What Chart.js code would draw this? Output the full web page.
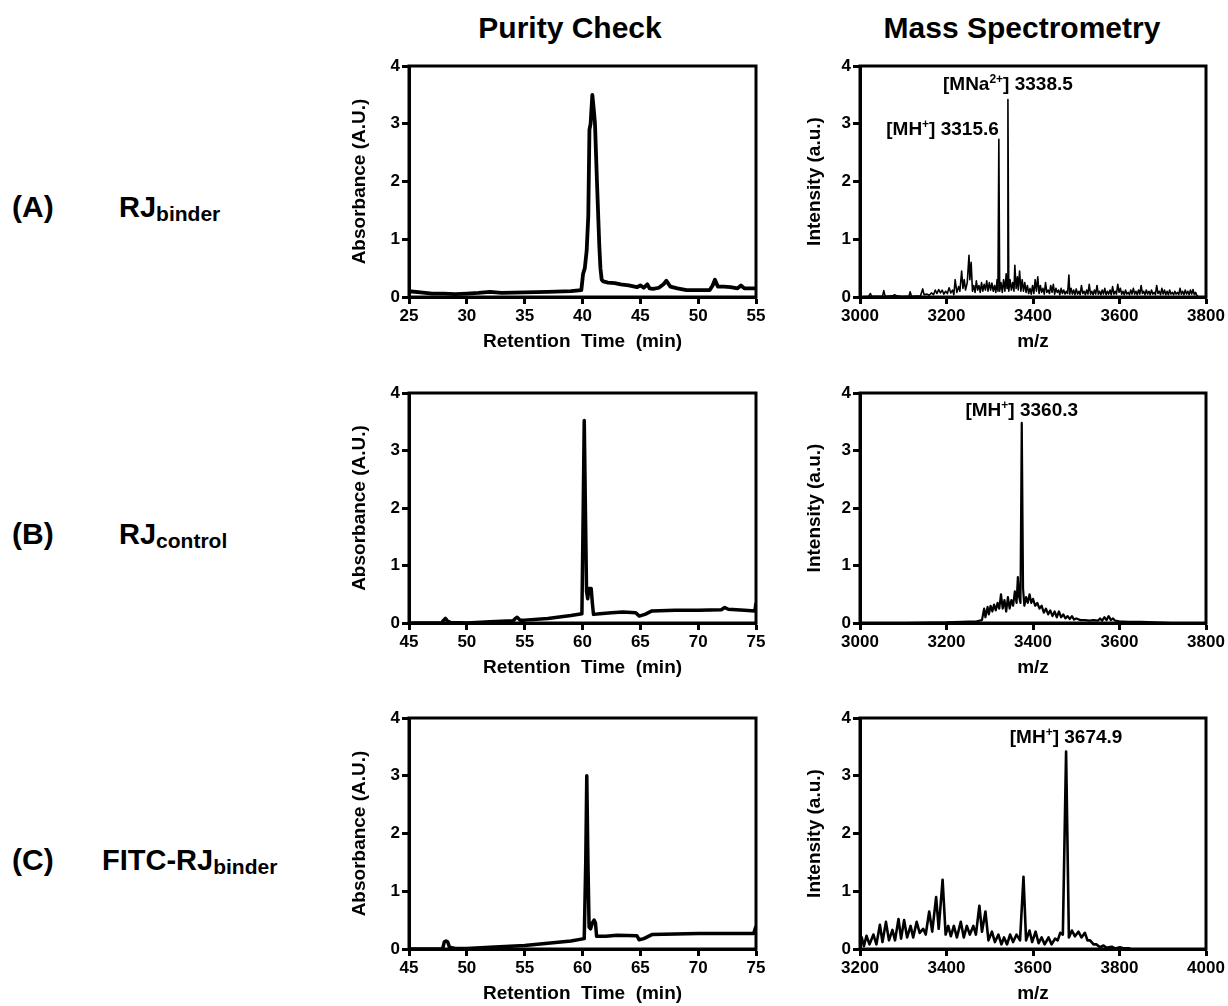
<!DOCTYPE html>
<html>
<head>
<meta charset="utf-8">
<script src="https://cdn.jsdelivr.net/npm/chart.js@4.4.1/dist/chart.umd.min.js"></script>
<style>
  body { margin: 0; width: 1228px; height: 1006px; background: #fff; position: relative; overflow: hidden;
         font-family: 'Liberation Sans', Arial, sans-serif; font-weight: bold; color: #000; }
  .col-title { position: absolute; top: 9px; font-size: 30px; line-height: 38px; white-space: nowrap; transform: translateX(-50%); }
  .row-tag { position: absolute; left: 12px; font-size: 30px; line-height: 36px; }
  .row-name { position: absolute; font-size: 29px; line-height: 36px; white-space: nowrap; }
  .row-name sub { font-size: 21px; vertical-align: -4px; line-height: 0; }
  canvas { position: absolute; }
</style>
</head>
<body>
<div class="col-title" style="left:570px">Purity Check</div>
<div class="col-title" style="left:1022px">Mass Spectrometry</div>

<div class="row-tag" style="top:189px">(A)</div>
<div class="row-name" style="top:189px;left:119px">RJ<sub>binder</sub></div>
<div class="row-tag" style="top:516px">(B)</div>
<div class="row-name" style="top:516px;left:119px">RJ<sub>control</sub></div>
<div class="row-tag" style="top:842px">(C)</div>
<div class="row-name" style="top:842px;left:102px">FITC-RJ<sub>binder</sub></div>

<canvas id="hplcA"></canvas>
<canvas id="msA"></canvas>
<canvas id="hplcB"></canvas>
<canvas id="msB"></canvas>
<canvas id="hplcC"></canvas>
<canvas id="msC"></canvas>

<script>
// ---- HPLC traces (retention time in min, absorbance A.U.) ----
var hplcA_time = [25, 26, 27, 28, 29, 30, 31, 32, 33, 35,
                  37, 39, 39.9, 40.05, 40.2, 40.36, 40.5, 40.6, 40.7, 40.85,
                  40.95, 41.08, 41.25, 41.45, 41.55, 41.66, 41.8, 42.2, 42.8, 43.3,
                  44, 44.7, 45, 45.3, 45.6, 45.8, 46.1, 46.6, 47.0, 47.25,
                  47.6, 48.2, 49, 50, 51, 51.25, 51.45, 51.7, 52.2, 52.8,
                  53.4, 53.7, 54.0, 54.5, 55];
var hplcA_abs  = [0.1, 0.08, 0.06, 0.06, 0.05, 0.06, 0.07, 0.09, 0.07, 0.08,
                  0.09, 0.1, 0.12, 0.4, 0.5, 0.8, 1.4, 2.9, 3.0, 3.5,
                  3.3, 3.0, 2.0, 0.9, 0.5, 0.3, 0.27, 0.25, 0.24, 0.22,
                  0.2, 0.17, 0.2, 0.16, 0.22, 0.15, 0.14, 0.16, 0.22, 0.28,
                  0.18, 0.15, 0.12, 0.12, 0.12, 0.2, 0.3, 0.18, 0.18, 0.17,
                  0.15, 0.2, 0.15, 0.15, 0.15];

var hplcB_time = [45, 47.8, 48.0, 48.15, 48.35, 48.6, 50, 52, 54, 54.2,
                  54.35, 54.6, 55, 57, 59, 59.95, 60.05, 60.15, 60.25, 60.35,
                  60.45, 60.55, 60.75, 60.85, 60.95, 61.5, 62.5, 63.5, 64.6, 64.9,
                  65.4, 66, 68, 70, 72, 72.3, 72.6, 74, 74.9, 75];
var hplcB_abs  = [0, 0, 0.05, 0.08, 0.03, 0.01, 0, 0.02, 0.04, 0.08,
                  0.1, 0.05, 0.05, 0.08, 0.13, 0.16, 1.8, 3.52, 2.0, 0.55,
                  0.42, 0.6, 0.6, 0.35, 0.15, 0.16, 0.18, 0.19, 0.18, 0.12,
                  0.15, 0.21, 0.22, 0.22, 0.23, 0.27, 0.24, 0.22, 0.21, 0.35];

var hplcC_time = [45, 47.9, 48.05, 48.2, 48.35, 48.5, 49, 50, 52, 55,
                  57, 59, 60.15, 60.28, 60.37, 60.47, 60.57, 60.7, 60.85, 61.0,
                  61.12, 61.22, 62, 63, 64.7, 64.9, 65.3, 66, 68, 70,
                  72, 74.8, 75];
var hplcC_abs  = [0, 0, 0.12, 0.14, 0.12, 0.03, 0.01, 0.01, 0.03, 0.06,
                  0.1, 0.14, 0.18, 1.5, 3.0, 1.5, 0.38, 0.35, 0.45, 0.5,
                  0.45, 0.22, 0.22, 0.24, 0.23, 0.16, 0.18, 0.25, 0.26, 0.27,
                  0.27, 0.27, 0.4];

// ---- MS spectra (m/z, intensity a.u.) ----
var msA_mz  = [3000, 3020, 3024, 3027, 3052, 3055, 3058, 3075, 3080, 3085,
               3100, 3113, 3116, 3119, 3140, 3145, 3148, 3155, 3160, 3165,
               3170, 3174, 3178, 3182, 3186, 3190, 3194, 3198, 3202, 3206,
               3210, 3214, 3217, 3220, 3224, 3228, 3231, 3235, 3238, 3241,
               3244, 3248, 3252, 3254, 3257, 3260, 3263, 3266, 3269, 3272,
               3275, 3278, 3281, 3284, 3287, 3290, 3293, 3296, 3299, 3302,
               3305, 3308, 3311, 3314, 3317, 3319, 3321, 3323, 3326, 3329,
               3332, 3335, 3338, 3340, 3342, 3344, 3347, 3350, 3353, 3356,
               3358, 3361, 3364, 3366, 3369, 3372, 3375, 3378, 3381, 3384,
               3387, 3390, 3393, 3396, 3399, 3402, 3405, 3408, 3411, 3414,
               3417, 3420, 3423, 3426, 3429, 3432, 3435, 3438, 3441, 3444,
               3447, 3450, 3453, 3456, 3459, 3462, 3465, 3468, 3471, 3474,
               3477, 3480, 3483, 3485, 3488, 3491, 3494, 3497, 3500, 3503,
               3506, 3509, 3512, 3515, 3518, 3521, 3524, 3527, 3530, 3533,
               3536, 3539, 3542, 3545, 3548, 3551, 3554, 3557, 3560, 3563,
               3566, 3569, 3572, 3575, 3578, 3581, 3584, 3587, 3590, 3593,
               3596, 3599, 3602, 3605, 3608, 3611, 3614, 3617, 3620, 3623,
               3626, 3629, 3632, 3635, 3638, 3641, 3644, 3647, 3650, 3653,
               3656, 3659, 3662, 3665, 3668, 3671, 3674, 3677, 3680, 3683,
               3686, 3689, 3692, 3695, 3698, 3701, 3704, 3707, 3710, 3713,
               3716, 3719, 3722, 3725, 3728, 3731, 3734, 3737, 3740, 3743,
               3746, 3749, 3752, 3755, 3758, 3761, 3764, 3767, 3770, 3773,
               3776, 3779, 3782];
var msA_int = [0, 0.01, 0.06, 0.01, 0.01, 0.11, 0.01, 0.02, 0.04, 0.02,
               0.01, 0.01, 0.09, 0.01, 0.02, 0.14, 0.04, 0.05, 0.03, 0.07,
               0.04, 0.12, 0.06, 0.13, 0.07, 0.12, 0.05, 0.1, 0.06, 0.16,
               0.07, 0.12, 0.04, 0.3, 0.08, 0.18, 0.1, 0.45, 0.15, 0.3,
               0.12, 0.25, 0.72, 0.3, 0.6, 0.1, 0.2, 0.08, 0.28, 0.12,
               0.2, 0.08, 0.25, 0.1, 0.22, 0.12, 0.28, 0.1, 0.25, 0.12,
               0.24, 0.1, 0.2, 0.08, 0.3, 0.1, 2.73, 0.1, 0.25, 0.08,
               0.3, 0.1, 0.4, 0.15, 3.42, 0.1, 0.3, 0.12, 0.25, 0.1,
               0.55, 0.15, 0.35, 0.12, 0.45, 0.1, 0.3, 0.1, 0.25, 0.08,
               0.2, 0.06, 0.15, 0.05, 0.2, 0.06, 0.3, 0.1, 0.35, 0.06,
               0.2, 0.08, 0.15, 0.05, 0.25, 0.08, 0.12, 0.06, 0.2, 0.08,
               0.22, 0.05, 0.15, 0.08, 0.12, 0.04, 0.15, 0.06, 0.12, 0.05,
               0.1, 0.06, 0.38, 0.05, 0.15, 0.05, 0.12, 0.04, 0.14, 0.05,
               0.1, 0.04, 0.2, 0.06, 0.1, 0.04, 0.12, 0.05, 0.22, 0.05,
               0.1, 0.04, 0.12, 0.05, 0.2, 0.05, 0.1, 0.04, 0.12, 0.05,
               0.15, 0.04, 0.1, 0.05, 0.12, 0.04, 0.18, 0.05, 0.1, 0.05,
               0.22, 0.08, 0.15, 0.05, 0.1, 0.04, 0.12, 0.05, 0.08, 0.04,
               0.12, 0.05, 0.15, 0.05, 0.1, 0.04, 0.12, 0.05, 0.2, 0.06,
               0.1, 0.04, 0.12, 0.05, 0.1, 0.04, 0.12, 0.05, 0.08, 0.04,
               0.2, 0.06, 0.1, 0.04, 0.15, 0.05, 0.12, 0.04, 0.1, 0.04,
               0.12, 0.05, 0.08, 0.04, 0.1, 0.05, 0.08, 0.04, 0.15, 0.05,
               0.1, 0.04, 0.12, 0.05, 0.1, 0.04, 0.12, 0.05, 0.13, 0.04,
               0.08, 0.02, 0.01];

var msB_mz  = [3000, 3100, 3200, 3235, 3270, 3282, 3287, 3290, 3295, 3298,
               3302, 3306, 3310, 3314, 3318, 3322, 3326, 3330, 3334, 3338,
               3342, 3346, 3350, 3354, 3358, 3362, 3365, 3368, 3371, 3374,
               3377, 3380, 3384, 3388, 3392, 3396, 3400, 3405, 3410, 3415,
               3420, 3425, 3430, 3435, 3440, 3445, 3450, 3455, 3460, 3465,
               3470, 3475, 3480, 3485, 3490, 3495, 3500, 3510, 3520, 3530,
               3540, 3550, 3555, 3560, 3565, 3570, 3575, 3580, 3585, 3590,
               3600, 3620, 3650, 3680, 3720, 3800];
var msB_int = [0, 0, 0.01, 0.02, 0.03, 0.05, 0.25, 0.1, 0.28, 0.15,
               0.3, 0.2, 0.32, 0.22, 0.35, 0.25, 0.5, 0.25, 0.4, 0.2,
               0.45, 0.25, 0.4, 0.3, 0.55, 0.35, 0.8, 0.45, 0.35, 3.48,
               0.6, 0.3, 0.45, 0.35, 0.5, 0.35, 0.42, 0.3, 0.35, 0.25,
               0.3, 0.18, 0.25, 0.15, 0.22, 0.12, 0.2, 0.1, 0.2, 0.1,
               0.15, 0.08, 0.12, 0.07, 0.12, 0.06, 0.08, 0.05, 0.05, 0.04,
               0.05, 0.04, 0.08, 0.04, 0.1, 0.05, 0.12, 0.05, 0.08, 0.04,
               0.03, 0.02, 0.02, 0.01, 0, 0];

var msC_mz  = [3200, 3204, 3209, 3215, 3222, 3231, 3238, 3246, 3252, 3260,
               3267, 3275, 3281, 3289, 3295, 3302, 3309, 3317, 3323, 3331,
               3338, 3346, 3352, 3360, 3367, 3376, 3382, 3391, 3398, 3404,
               3410, 3417, 3424, 3433, 3440, 3447, 3454, 3462, 3468, 3476,
               3482, 3490, 3497, 3505, 3512, 3520, 3527, 3533, 3540, 3547,
               3554, 3562, 3570, 3578, 3584, 3592, 3598, 3606, 3613, 3620,
               3627, 3636, 3643, 3651, 3657, 3663, 3669, 3676.5, 3683, 3690,
               3697, 3705, 3712, 3720, 3726, 3732, 3740, 3747, 3755, 3763,
               3770, 3782, 3790, 3801, 3810, 3825];
var msC_int = [0.15, 0.2, 0.05, 0.23, 0.08, 0.25, 0.08, 0.42, 0.12, 0.47,
               0.15, 0.33, 0.15, 0.52, 0.18, 0.5, 0.2, 0.4, 0.2, 0.47,
               0.28, 0.35, 0.25, 0.65, 0.3, 0.9, 0.35, 1.2, 0.25, 0.4,
               0.22, 0.4, 0.2, 0.47, 0.2, 0.4, 0.25, 0.4, 0.25, 0.75,
               0.3, 0.65, 0.15, 0.3, 0.12, 0.25, 0.08, 0.2, 0.08, 0.25,
               0.12, 0.25, 0.15, 1.25, 0.15, 0.32, 0.12, 0.3, 0.1, 0.2,
               0.08, 0.2, 0.08, 0.18, 0.15, 0.28, 0.25, 3.42, 0.2, 0.32,
               0.22, 0.3, 0.2, 0.28, 0.15, 0.15, 0.08, 0.08, 0.03, 0.06,
               0.02, 0.04, 0.01, 0.03, 0.01, 0.01];

// peak annotations: position is the peak (m/z, intensity)
var msA_labels = [
  { x: 3342, y: 3.42, parts: [['[MNa'], ['2+', 1], ['] 3338.5']], align: 'center', dy: -15 },
  { x: 3321, y: 2.73, parts: [['[MH'], ['+', 1], ['] 3315.6']], align: 'right', dy: -10 }
];
var msB_labels = [
  { x: 3374, y: 3.48, parts: [['[MH'], ['+', 1], ['] 3360.3']], align: 'center', dy: -12 }
];
var msC_labels = [
  { x: 3676.5, y: 3.42, parts: [['[MH'], ['+', 1], ['] 3674.9']], align: 'center', dy: -14 }
];

Chart.defaults.font.family = "'Liberation Sans', Arial, sans-serif";
Chart.defaults.font.weight = 'bold';
Chart.defaults.color = '#000';

// closes the plot box (top + right edges)
var boxPlugin = {
  id: 'box',
  afterDatasetsDraw: function (chart) {
    var a = chart.chartArea, ctx = chart.ctx;
    ctx.save();
    ctx.strokeStyle = '#000';
    ctx.lineWidth = 3;
    ctx.strokeRect(a.left, a.top, a.right - a.left, a.bottom - a.top);
    ctx.restore();
  }
};

// peak labels with a superscript charge
var peakLabelPlugin = {
  id: 'peakLabels',
  afterDatasetsDraw: function (chart, args, opts) {
    var items = opts.items || [];
    var ctx = chart.ctx;
    var main = "bold 19px 'Liberation Sans', Arial, sans-serif";
    var sup = "bold 12px 'Liberation Sans', Arial, sans-serif";
    ctx.save();
    ctx.fillStyle = '#000';
    ctx.textBaseline = 'middle';
    ctx.textAlign = 'left';
    items.forEach(function (it) {
      var px = chart.scales.x.getPixelForValue(it.x);
      var py = chart.scales.y.getPixelForValue(it.y) + it.dy;
      var widths = [], total = 0;
      it.parts.forEach(function (p) {
        ctx.font = p[1] ? sup : main;
        var w = ctx.measureText(p[0]).width;
        widths.push(w);
        total += w;
      });
      var x = it.align === 'right' ? px - total : px - total / 2;
      it.parts.forEach(function (p, i) {
        ctx.font = p[1] ? sup : main;
        ctx.fillText(p[0], x, p[1] ? py - 5 : py);
        x += widths[i];
      });
    });
    ctx.restore();
  }
};

function makeChart(id, xs, ys, opt) {
  var cv = document.getElementById(id);
  var left = opt.col === 0 ? 340 : 795;
  var width = opt.col === 0 ? 430 : 433;
  var yAxisW = opt.col === 0 ? 69 : 65;
  var plotW = opt.col === 0 ? 347 : 346;
  var plotTop = [66, 393, 718][opt.row];
  var plotH = [231, 230, 231][opt.row];
  var padTop = 14, xAxisH = 58;
  cv.width = width;
  cv.height = padTop + plotH + xAxisH;
  cv.style.left = left + 'px';
  cv.style.top = (plotTop - padTop) + 'px';

  var pts = xs.map(function (x, i) { return { x: x, y: ys[i] }; });

  return new Chart(cv, {
    type: 'line',
    data: {
      datasets: [{
        data: pts,
        borderColor: '#000',
        borderWidth: opt.lw,
        borderJoinStyle: 'round',
        pointRadius: 0,
        tension: 0,
        fill: false
      }]
    },
    options: {
      responsive: false,
      animation: false,
      layout: { padding: { top: padTop, right: width - yAxisW - plotW, left: 0, bottom: 0 } },
      plugins: {
        legend: { display: false },
        tooltip: { enabled: false },
        peakLabels: { items: opt.labels || [] }
      },
      scales: {
        x: {
          type: 'linear',
          min: opt.xmin, max: opt.xmax,
          afterFit: function (s) { s.height = xAxisH; },
          border: { display: true, color: '#000', width: 3 },
          grid: { drawOnChartArea: false, drawTicks: true, tickLength: 7, tickWidth: 3, tickColor: '#000' },
          ticks: { stepSize: opt.xstep, padding: 2, maxRotation: 0, font: { size: 17, weight: 'bold' },
                   callback: function (v) { return v; } },
          title: { display: true, text: opt.xTitle, font: { size: 19, weight: 'bold' }, padding: { top: 0, bottom: 2 } }
        },
        y: {
          min: 0, max: 4,
          afterFit: function (s) { s.width = yAxisW; },
          border: { display: true, color: '#000', width: 3 },
          grid: { drawOnChartArea: false, drawTicks: true, tickLength: 7, tickWidth: 3, tickColor: '#000' },
          ticks: { stepSize: 1, padding: 2, font: { size: 17, weight: 'bold' } },
          title: { display: true, text: opt.yTitle, font: { size: 19, weight: 'bold' }, padding: { top: 8, bottom: 0 } }
        }
      }
    },
    plugins: [boxPlugin, peakLabelPlugin]
  });
}

var rtTitle = 'Retention  Time  (min)';
makeChart('hplcA', hplcA_time, hplcA_abs, { col: 0, row: 0, xmin: 25, xmax: 55, xstep: 5, lw: 3.8, xTitle: rtTitle, yTitle: 'Absorbance (A.U.)' });
makeChart('msA', msA_mz, msA_int, { col: 1, row: 0, xmin: 3000, xmax: 3800, xstep: 200, lw: 1.6, xTitle: 'm/z', yTitle: 'Intensity (a.u.)', labels: msA_labels });
makeChart('hplcB', hplcB_time, hplcB_abs, { col: 0, row: 1, xmin: 45, xmax: 75, xstep: 5, lw: 3.5, xTitle: rtTitle, yTitle: 'Absorbance (A.U.)' });
makeChart('msB', msB_mz, msB_int, { col: 1, row: 1, xmin: 3000, xmax: 3800, xstep: 200, lw: 2.2, xTitle: 'm/z', yTitle: 'Intensity (a.u.)', labels: msB_labels });
makeChart('hplcC', hplcC_time, hplcC_abs, { col: 0, row: 2, xmin: 45, xmax: 75, xstep: 5, lw: 3.5, xTitle: rtTitle, yTitle: 'Absorbance (A.U.)' });
makeChart('msC', msC_mz, msC_int, { col: 1, row: 2, xmin: 3200, xmax: 4000, xstep: 200, lw: 2.6, xTitle: 'm/z', yTitle: 'Intensity (a.u.)', labels: msC_labels });
</script>
</body>
</html>
